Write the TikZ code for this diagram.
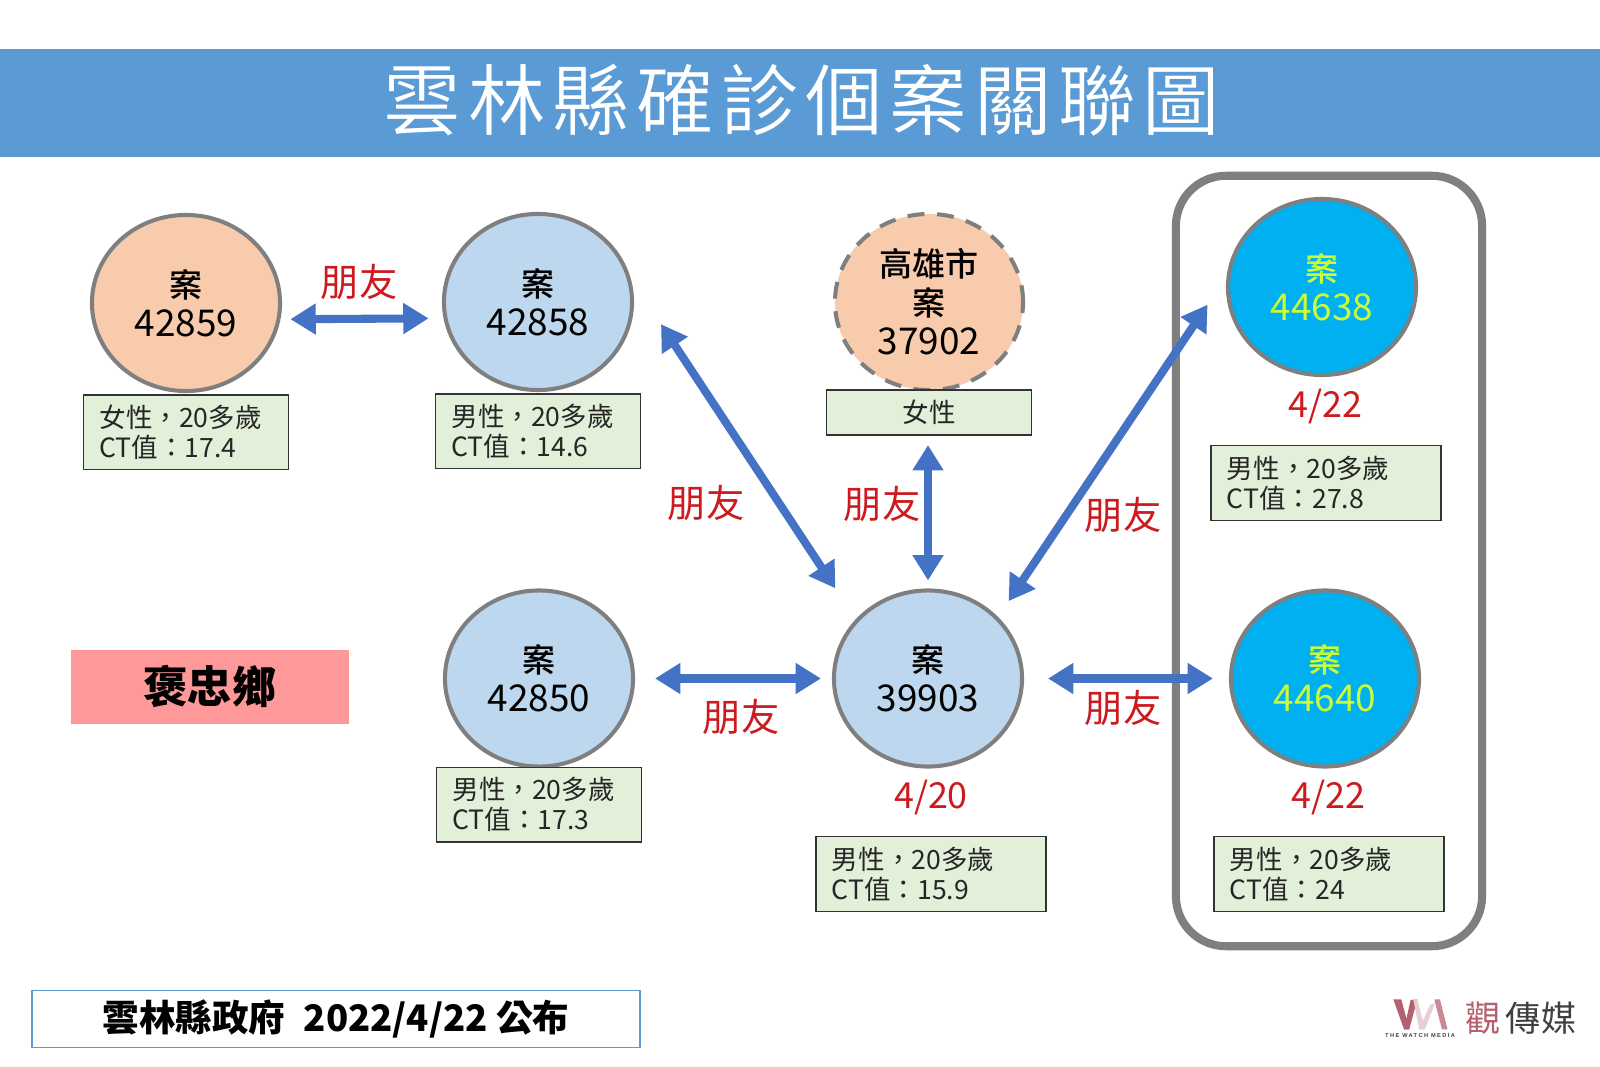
\documentclass[tikz,border=0pt]{standalone}
\usepackage{fontspec}
\setmainfont{Noto Sans CJK TC}
\newfontfamily\titlefont[LetterSpace=9]{Noto Sans CJK TC DemiLight}
\newfontfamily\casefont{Noto Sans CJK TC Medium}
\newfontfamily\logofont[LetterSpace=25]{Liberation Sans}
\usetikzlibrary{shapes.geometric,arrows.meta,positioning}
\definecolor{bandblue}{HTML}{5B9BD5}
\definecolor{peach}{HTML}{F8CBAD}
\definecolor{paleblue}{HTML}{BDD7EE}
\definecolor{brightblue}{HTML}{00B0F0}
\definecolor{edgegray}{HTML}{7F7F7F}
\definecolor{linkblue}{HTML}{4472C4}
\definecolor{boxgreen}{HTML}{E2F0D9}
\definecolor{relred}{HTML}{CC1A1F}
\definecolor{limeyellow}{HTML}{CCFF33}
\definecolor{townpink}{HTML}{FF9999}
\definecolor{logodark}{HTML}{B5606F}
\definecolor{logomid}{HTML}{C98A97}
\definecolor{logolight}{HTML}{E8CDD2}
\newcommand{\caselabel}[1]{{\casefont\fontsize{9.4pt}{11.1pt}\selectfont 案}\\#1}
\tikzset{
  casenode/.style={ellipse,draw=edgegray,line width=1.15pt,minimum width=1.88cm,minimum height=1.76cm,inner sep=0pt,outer sep=0pt,align=center,font=\fontsize{10.5pt}{11.1pt}\selectfont},
  infobox/.style={draw=black!80,line width=.35pt,fill=boxgreen,text=black!85,text width=1.73cm,inner xsep=.16cm,minimum height=.745cm,inner ysep=0pt,outer sep=0pt,align=left,font=\fontsize{7.55pt}{8.5pt}\selectfont},
  widebox/.style={infobox,text width=1.98cm},
  friendlabel/.style={text=relred,inner sep=0pt,font=\fontsize{10.9pt}{11pt}\selectfont},
  datelabel/.style={text=relred,inner sep=0pt,font=\fontsize{10.2pt}{11pt}\selectfont},
  link/.style={draw=linkblue,line width=2.3pt,{Triangle[length=7.2pt,width=8.4pt]}-{Triangle[length=7.2pt,width=8.4pt]}}
}

\begin{document}
\begin{tikzpicture}[x=0.01cm,y=-0.01cm]
  \useasboundingbox (0,0) rectangle (1600,1067);
  \fill[white] (0,0) rectangle (1600,1067);
  % title band
  \node[fill=bandblue,minimum width=16cm,minimum height=1.07cm,inner sep=0pt,outer sep=0pt] at (800,103) (band) {};
  \node[text=white,inner sep=0pt,font=\titlefont\fontsize{22pt}{24pt}\selectfont] at (802,100) (title) {雲林縣確診個案關聯圖};
  % group frame
  \node[draw=edgegray,line width=2.3pt,rounded corners=.5cm,minimum width=3.06cm,minimum height=7.7cm,outer sep=0pt] at (1329,561) (frame) {};
  % cases
  \node[casenode,fill=peach] at (186,303) (c42859) {\caselabel{42859}};
  \node[casenode,fill=paleblue] at (538,302) (c42858) {\caselabel{42858}};
  \node[casenode,fill=peach,dashed,dash pattern=on 4.8pt off 3.6pt] at (929,302) (c37902) {{\casefont\fontsize{9.4pt}{11.1pt}\selectfont 高雄市}\\\caselabel{37902}};
  \node[casenode,fill=brightblue,text=limeyellow] at (1322,287) (c44638) {\caselabel{44638}};
  \node[casenode,fill=paleblue] at (539,678.5) (c42850) {\caselabel{42850}};
  \node[casenode,fill=paleblue] at (928,678.5) (c39903) {\caselabel{39903}};
  \node[casenode,fill=brightblue,text=limeyellow] at (1325,678.5) (c44640) {\caselabel{44640}};
  % info boxes
  \node[infobox,below=.04cm of c42859] (i42859) {女性，20多歲\\CT值：17.4};
  \node[infobox,below=.04cm of c42858] (i42858) {男性，20多歲\\CT值：14.6};
  \node[infobox,below=0pt of c37902,minimum height=.45cm,align=center] (i37902) {女性};
  \node[widebox] at (1326,483) (i44638) {男性，20多歲\\CT值：27.8};
  \node[infobox,below=.01cm of c42850] (i42850) {男性，20多歲\\CT值：17.3};
  \node[widebox] at (931,874) (i39903) {男性，20多歲\\CT值：15.9};
  \node[widebox] at (1329,874) (i44640) {男性，20多歲\\CT值：24};
  % dates
  \node[datelabel] at (1325,406) (d44638) {4/22};
  \node[datelabel] at (931,797) (d39903) {4/20};
  \node[datelabel] at (1328,797) (d44640) {4/22};
  % links
  \draw[link,shorten <=.12cm,shorten >=.17cm] (c42859.-10) -- (c42858.190);
  \draw[link,shorten <=.63cm,shorten >=.39cm] (c42858.19) -- (c39903.141);
  \draw[link,shorten <=.1cm,shorten >=.1cm] (c39903.north) -- (c39903.north |- i37902.south);
  \draw[link,shorten <=.39cm,shorten >=.21cm] (c44638.171) -- (c39903.41);
  \draw[link,shorten <=.22cm,shorten >=.13cm] (c42850.east) -- (c39903.west);
  \draw[link,shorten <=.26cm,shorten >=.18cm] (c39903.east) -- (c44640.west);
  % relation labels
  \node[friendlabel] at (359,282) (f1) {朋友};
  \node[friendlabel] at (706,503) (f2) {朋友};
  \node[friendlabel] at (882,504) (f3) {朋友};
  \node[friendlabel] at (1123,515) (f4) {朋友};
  \node[friendlabel] at (741,717) (f5) {朋友};
  \node[friendlabel] at (1123,708) (f6) {朋友};
  % township and source
  \node[fill=townpink,minimum width=2.77cm,minimum height=.74cm,inner sep=0pt,font=\fontsize{12.6pt}{14pt}\selectfont\bfseries] at (210,687) (town) {褒忠鄉};
  \node[draw=bandblue,line width=.45pt,fill=white,minimum width=6.08cm,minimum height=.57cm,inner sep=0pt,font=\fontsize{10.4pt}{12pt}\selectfont\bfseries] at (336,1019) (source) {雲林縣政府\hspace{.5em}{\casefont 2022/4/22 公布}};
  % logo
  \begin{scope}[shift={(1380,990)},x=0.00333cm,y=-0.00333cm]
    \fill[logodark] (40,28) -- (64,28) -- (88,118) -- (72,118) -- cycle;
    \fill[logodark] (72,118) -- (88,118) -- (112,28) -- (92,30) -- cycle;
    \fill[logolight] (100,28) -- (112,28) -- (135,118) -- (118,118) -- cycle;
    \fill[logolight] (118,118) -- (135,118) -- (165,40) -- (150,45) -- cycle;
    \fill[logomid] (163,28) -- (180,28) -- (203,118) -- (186,118) -- cycle;
  \end{scope}
  \node[inner sep=0pt,text=black!75,font=\logofont\bfseries\fontsize{1.6pt}{2pt}\selectfont] at (1420,1036) (logotag) {THE WATCH MEDIA};
  \node[inner sep=0pt,text=logodark,font=\fontsize{10pt}{11pt}\selectfont] at (1483,1018) (logoa) {觀};
  \node[inner sep=0pt,text=black!75,font=\fontsize{10pt}{11pt}\selectfont] at (1541,1018) (logob) {傳媒};
\end{tikzpicture}
\end{document}
